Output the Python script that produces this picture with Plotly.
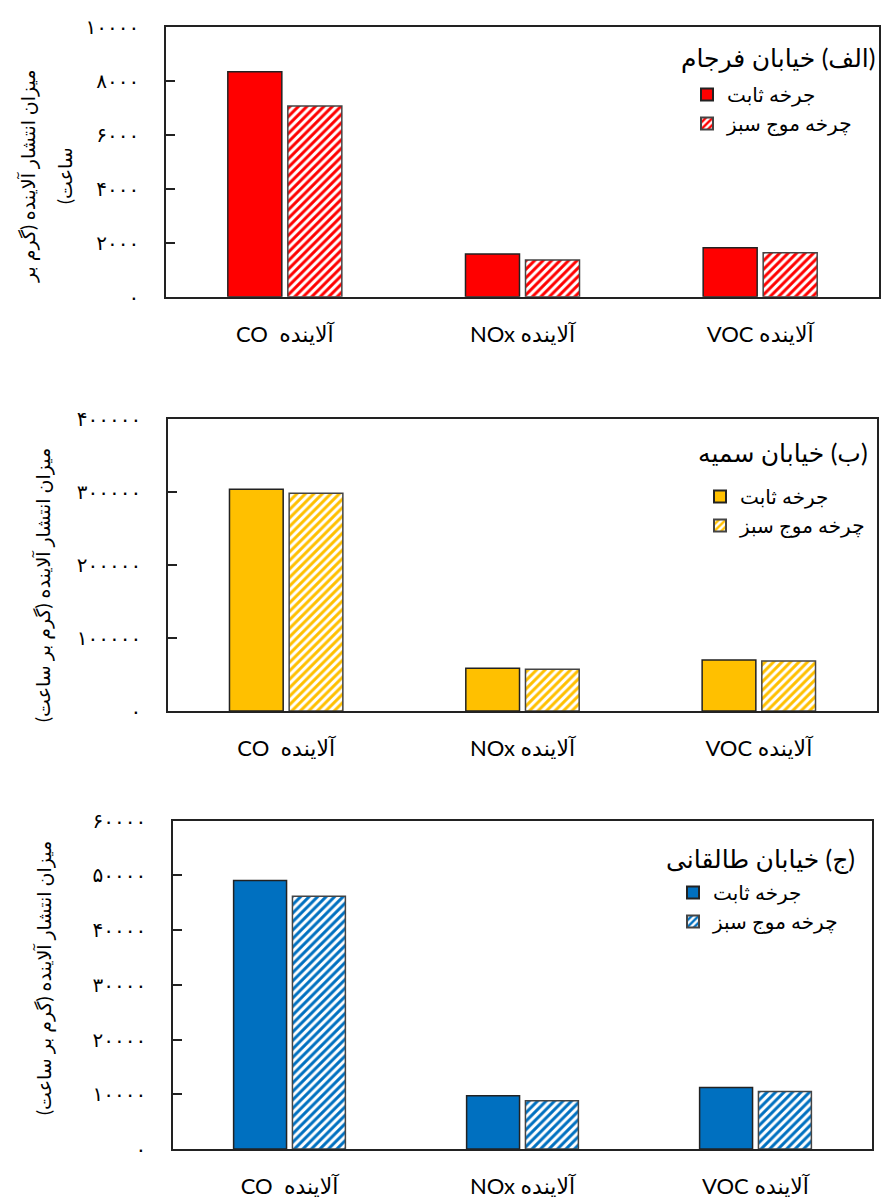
import plotly.graph_objects as go

# ---------------- data ----------------
categories = ["آلاینده  CO", "آلاینده NOx", "آلاینده VOC"]
series_names = ["جرخه ثابت", "چرخه موج سبز"]

farjam_fixed = [8330, 1580, 1815]
farjam_green = [7060, 1360, 1630]
somayeh_fixed = [303700, 58500, 69900]
somayeh_green = [298200, 57100, 68500]
taleghani_fixed = [49050, 9750, 11260]
taleghani_green = [46200, 8830, 10530]

farjam_tickvals = [0, 2000, 4000, 6000, 8000, 10000]
farjam_ticktext = ["۰", "۲۰۰۰", "۴۰۰۰", "۶۰۰۰", "۸۰۰۰", "۱۰۰۰۰"]
somayeh_tickvals = [0, 100000, 200000, 300000, 400000]
somayeh_ticktext = ["۰", "۱۰۰۰۰۰", "۲۰۰۰۰۰", "۳۰۰۰۰۰", "۴۰۰۰۰۰"]
taleghani_tickvals = [0, 10000, 20000, 30000, 40000, 50000, 60000]
taleghani_ticktext = ["۰", "۱۰۰۰۰", "۲۰۰۰۰", "۳۰۰۰۰", "۴۰۰۰۰", "۵۰۰۰۰", "۶۰۰۰۰"]

panel_titles = ["(الف) خیابان فرجام", "(ب) خیابان سمیه", "(ج) خیابان طالقانی"]
ytitle_line1 = "میزان انتشار آلاینده (گرم بر"
ytitle_line2 = "ساعت)"
ytitle_full = "میزان انتشار آلاینده (گرم بر ساعت)"

# ---------------- layout helpers ----------------
W, H = 881, 1199
RLE, PDF = "\u202b", "\u202c"


def rtl(s):
    return RLE + s + PDF


def fx(x):
    return x / W


def fy(y):
    return 1 - y / H


FONT = "Lato, 'DejaVu Sans', sans-serif"

panels = [
    dict(x0=166, x1=879, y0=26.7, y1=296.7, ymax=10000,
         tv=farjam_tickvals, tt=farjam_ticktext, color="#FF0000",
         fixed=farjam_fixed, green=farjam_green, title=panel_titles[0],
         tx=877, ty=57, lx=687, ly=75,
         ytitles=[(rtl(ytitle_line1), 28, 176), (rtl(ytitle_line2), 64, 176)]),
    dict(x0=168, x1=877, y0=419, y1=711, ymax=400000,
         tv=somayeh_tickvals, tt=somayeh_ticktext, color="#FFC000",
         fixed=somayeh_fixed, green=somayeh_green, title=panel_titles[1],
         tx=870, ty=452, lx=700, ly=477,
         ytitles=[(rtl(ytitle_full), 43, 585)]),
    dict(x0=173, x1=872, y0=820.7, y1=1149, ymax=60000,
         tv=taleghani_tickvals, tt=taleghani_ticktext, color="#0070C0",
         fixed=taleghani_fixed, green=taleghani_green, title=panel_titles[2],
         tx=857, ty=859, lx=673, ly=873,
         ytitles=[(rtl(ytitle_full), 44, 978)]),
]

fig = go.Figure()
annotations = []
layout = dict(width=W, height=H, margin=dict(l=0, r=0, t=0, b=0, autoexpand=False),
              paper_bgcolor="white", plot_bgcolor="white",
              barmode="group", bargap=0.495, bargroupgap=0.1,
              font=dict(family=FONT, color="black"), showlegend=True)

cats_disp = [rtl(c) for c in categories]

for i, p in enumerate(panels):
    sfx = "" if i == 0 else str(i + 1)
    xa, ya = "x" + sfx, "y" + sfx
    lg = "legend" + sfx
    fig.add_trace(go.Bar(
        x=cats_disp, y=p["fixed"], name=series_names[0],
        xaxis=xa, yaxis=ya, legend=lg,
        marker=dict(color=p["color"], line=dict(color="#222222", width=1.5)),
    ))
    fig.add_trace(go.Bar(
        x=cats_disp, y=p["green"], name=series_names[1],
        xaxis=xa, yaxis=ya, legend=lg,
        marker=dict(color="white", line=dict(color="#444444", width=1.5),
                    pattern=dict(shape="/", fgcolor=p["color"], bgcolor="white",
                                 size=6, solidity=0.5, fillmode="replace")),
    ))
    layout["xaxis" + sfx] = dict(
        domain=[fx(p["x0"]), fx(p["x1"])], anchor=ya, type="category",
        showline=True, mirror=True, linecolor="#222222", linewidth=1.5,
        ticks="", showgrid=False, zeroline=False, fixedrange=True,
        automargin=False,
        tickfont=dict(size=22, family=FONT), ticklabelstandoff=17,
    )
    layout["yaxis" + sfx] = dict(
        domain=[fy(p["y1"]), fy(p["y0"])], anchor=xa, range=[0, p["ymax"]],
        tickvals=p["tv"], ticktext=p["tt"], ticks="inside", ticklen=9,
        tickwidth=1.5, tickcolor="#222222",
        showline=True, mirror=True, linecolor="#222222", linewidth=1.5,
        showgrid=False, zeroline=False, fixedrange=True, automargin=False,
        tickfont=dict(size=20, family=FONT), ticklabelstandoff=21,
    )
    layout[lg] = dict(
        x=fx(p["lx"]), y=fy(p["ly"]), xanchor="left", yanchor="top",
        bgcolor="rgba(0,0,0,0)", borderwidth=0,
        font=dict(size=20, family=FONT), tracegroupgap=0,
        itemsizing="constant",
    )
    annotations.append(dict(
        text=rtl(p["title"]), xref="paper", yref="paper",
        x=fx(p["tx"]), y=fy(p["ty"]), xanchor="right", yanchor="middle",
        showarrow=False, font=dict(size=25, family=FONT),
    ))
    for (txt, ax, ay) in p["ytitles"]:
        annotations.append(dict(
            text=txt, xref="paper", yref="paper",
            x=fx(ax), y=fy(ay), xanchor="center", yanchor="middle",
            showarrow=False, textangle=-90, font=dict(size=19, family=FONT),
        ))

layout["annotations"] = annotations
fig.update_layout(**layout)
fig.write_html(
    "out.html",
    config={"displayModeBar": False},
    post_script="document.body.style.margin='0px';document.body.style.overflow='hidden';",
)
